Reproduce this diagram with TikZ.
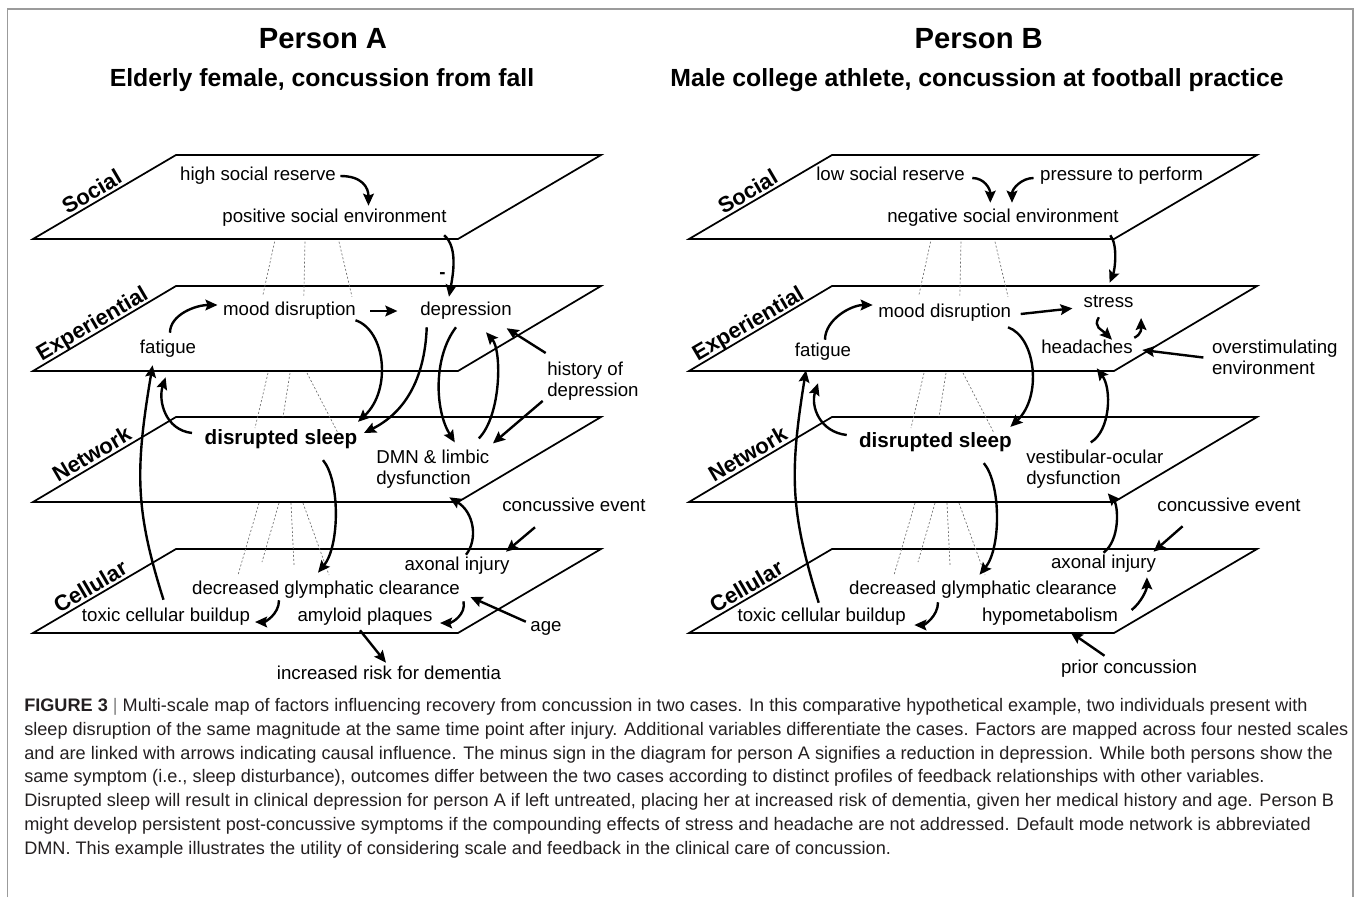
\documentclass[tikz,border=0pt]{standalone}
\usepackage{fontspec}
\setmainfont{Liberation Sans}
\usepackage{tikz}
\usetikzlibrary{arrows.meta,calc}

\begin{document}
\begin{tikzpicture}[x=0.75pt,y=0.75pt,yscale=-1,xscale=1,
  plane/.style={draw=black,line width=1.3pt,line join=miter},
  lvl/.style={font=\fontsize{16.5}{18}\selectfont\bfseries,inner sep=2pt,text height=12pt,text depth=0pt,anchor=south,rotate=30.4,pos=0.45},
  txt/.style={font=\fontsize{14}{16}\selectfont,inner sep=1pt,text height=10pt,text depth=3pt},
  txtml/.style={font=\fontsize{14}{16}\selectfont,inner sep=1pt,align=left,anchor=north west},
  sleepnode/.style={font=\fontsize{15.5}{18}\selectfont\bfseries,inner sep=1pt,text height=11pt,text depth=3.3pt},
  head/.style={font=\fontsize{21.9}{24}\selectfont\bfseries,inner sep=0pt,anchor=base},
  subhead/.style={font=\fontsize{18.6}{21}\selectfont\bfseries,inner sep=0pt,anchor=base},
  arr/.style={line width=1.8pt,-{Stealth[length=9pt,width=8pt,inset=1.5pt]}},
  zoomln/.style={draw={rgb, 255:red, 110; green, 110; blue, 110 },line width=0.5pt,dash pattern=on 1.5pt off 1.5pt},
  frameln/.style={draw={rgb, 255:red, 155; green, 155; blue, 155 },line width=1.2pt}]
\useasboundingbox (0,0) rectangle (1357,897);

%Shape: Frame
\draw [frameln] (7.5,897) -- (7.5,9) -- (1353,9) -- (1353,897) ;

% Text Node
\draw (323,48.5) node [head] (hdA) {Person A};
% Text Node
\draw (322,86) node [subhead] (subA) {Elderly female, concussion from fall};
% Text Node
\draw (978.7,48.5) node [head] (hdB) {Person B};
% Text Node
\draw (977,86) node [subhead] (subB) {Male college athlete, concussion at football practice};

%Shape: Parallelogram (person A)
\draw [plane] (33,239) -- node [lvl] (socA) {Social} (176,155) -- (601,155) -- (458,239) -- cycle ;
\draw [plane] (33,371) -- node [lvl] (expA) {Experiential} (176,286) -- (601,286) -- (458,371) -- cycle ;
\draw [plane] (33,502) -- node [lvl] (netA) {Network} (176,417) -- (601,417) -- (458,502) -- cycle ;
\draw [plane] (33,633) -- node [lvl,pos=0.44] (celA) {Cellular} (176,549) -- (601,549) -- (458,633) -- cycle ;
%Shape: Parallelogram (person B)
\draw [plane] (689,239) -- node [lvl] (socB) {Social} (832,155) -- (1257,155) -- (1114,239) -- cycle ;
\draw [plane] (689,371) -- node [lvl] (expB) {Experiential} (832,286) -- (1257,286) -- (1114,371) -- cycle ;
\draw [plane] (689,502) -- node [lvl] (netB) {Network} (832,417) -- (1257,417) -- (1114,502) -- cycle ;
\draw [plane] (689,633) -- node [lvl,pos=0.44] (celB) {Cellular} (832,549) -- (1257,549) -- (1114,633) -- cycle ;

%Straight Lines (scale links A)
\draw [zoomln] (274.6,241.7) -- (262.9,295) ;
\draw [zoomln] (305,241.7) -- (303.8,296.7) ;
\draw [zoomln] (339,241.7) -- (352,296.7) ;
\draw [zoomln] (268,373) -- (255,428) ;
\draw [zoomln] (290,373) -- (283,417) ;
\draw [zoomln] (307,373) -- (338,433) ;
\draw [zoomln] (259,503) -- (238,575) ;
\draw [zoomln] (279,503) -- (262,562) ;
\draw [zoomln] (291,503) -- (294,565) ;
\draw [zoomln] (303,503) -- (329,575) ;
%Straight Lines (scale links B)
\draw [zoomln] (930.6,241.7) -- (918.9,295) ;
\draw [zoomln] (961,241.7) -- (959.8,296.7) ;
\draw [zoomln] (995,241.7) -- (1008,296.7) ;
\draw [zoomln] (924,373) -- (911,428) ;
\draw [zoomln] (946,373) -- (939,417) ;
\draw [zoomln] (963,373) -- (994,433) ;
\draw [zoomln] (915,503) -- (894,575) ;
\draw [zoomln] (935,503) -- (918,562) ;
\draw [zoomln] (947,503) -- (950,565) ;
\draw [zoomln] (959,503) -- (985,575) ;

% Text Node
\draw (258,176) node [txt] (hsrA) {high social reserve};
\draw (334.5,218) node [txt] (pseA) {positive social environment};
\draw (442.5,274) node [txt,font=\fontsize{14}{16}\selectfont\bfseries] (minA) {-};
\draw (289.5,311) node [txt] (moodA) {mood disruption};
\draw (466,311) node [txt] (depA) {depression};
\draw (168,349) node [txt] (fatA) {fatigue};
\draw (545.7,360) node [txtml] (histA) {history of\\depression};
\draw (281,439) node [sleepnode] (sleepA) {disrupted sleep};
\draw (374.7,448.4) node [txtml] (dmnA) {DMN \& limbic\\dysfunction};
\draw (574,507) node [txt] (concA) {concussive event};
\draw (457,566) node [txt] (axonA) {axonal injury};
\draw (326,590) node [txt] (glymA) {decreased glymphatic clearance};
\draw (166,617) node [txt] (toxA) {toxic cellular buildup};
\draw (365,617) node [txt] (amyA) {amyloid plaques};
\draw (546,627) node [txt] (ageA) {age};
\draw (389,675) node [txt] (riskA) {increased risk for dementia};

% Text Node
\draw (890.5,176) node [txt] (lsrB) {low social reserve};
\draw (1121.6,176) node [txt] (ptpB) {pressure to perform};
\draw (1003,218) node [txt] (nseB) {negative social environment};
\draw (944.7,313) node [txt] (moodB) {mood disruption};
\draw (1108.6,302.7) node [txt] (stressB) {stress};
\draw (1087,349) node [txt] (headB) {headaches};
\draw (823,352) node [txt] (fatB) {fatigue};
\draw (1210.4,338.4) node [txtml] (overB) {overstimulating\\environment};
\draw (935.4,442) node [sleepnode] (sleepB) {disrupted sleep};
\draw (1024.7,448.4) node [txtml] (vestB) {vestibular-ocular\\dysfunction};
\draw (1229,507) node [txt] (concB) {concussive event};
\draw (1103.5,564) node [txt] (axonB) {axonal injury};
\draw (983,590) node [txt] (glymB) {decreased glymphatic clearance};
\draw (821.7,617) node [txt] (toxB) {toxic cellular buildup};
\draw (1050,617) node [txt] (hypoB) {hypometabolism};
\draw (1129,669) node [txt] (priorB) {prior concussion};

%Curve Lines (person A)
\draw [arr] ($(hsrA.east)+(3,0)$) .. controls +(22,0) and +(0,-18) .. ($(pseA.north)+(34,-2)$) ;
\draw [arr] ($(pseA.south east)+(-4,7)$) .. controls +(14,12) and +(4,-22) .. ($(depA.north)+(-17,-4)$) ;
\draw [arr,shorten <=9.5pt,shorten >=16pt] (moodA.east) -- (depA.west) ;
\draw [arr] ($(fatA.north)+(2,-6)$) .. controls +(0,-18) and +(-22,0) .. ($(moodA.west)+(-4,-6)$) ;
\draw [arr] ($(moodA.south east)+(-2,-1)$) .. controls +(30,10) and +(34,-32) .. ($(sleepA.north east)+(-1,-6)$) ;
\draw [arr] ($(depA.south west)+(8,6)$) .. controls +(-2,53) and +(40,-20) .. ($(sleepA.east)+(5,-6)$) ;
\draw [arr] ($(depA.south)+(-10,6)$) .. controls +(-23,30) and +(-20,-32) .. ($(dmnA.north)+(22,-6)$) ;
\draw [arr] ($(dmnA.north)+(46,-10)$) .. controls +(22.5,-23) and +(16,18) .. ($(depA.south)+(20,11)$) ;
\draw [arr] ($(histA.north west)+(0,-7)$) -- ($(depA.south east)+(-6.6,7)$) ;
\draw [arr] ($(histA.south west)+(-3,-1)$) -- ($(dmnA.north east)+(2,-5)$) ;
\draw [arr] ($(sleepA.south)+(42,10)$) .. controls +(17,20) and +(22,-27) .. ($(glymA.north)+(-8,-7)$) ;
\draw [arr] ($(axonA.north)+(9,-1)$) .. controls +(12,-15) and +(25,15) .. ($(dmnA.south)+(16.5,7)$) ;
\draw [arr] ($(concA.south)+(-39,10)$) -- ($(axonA.north east)+(-5,-4)$) ;
\draw [arr] ($(glymA.south)+(-47,0)$) .. controls +(0,14) and +(10,0) .. ($(toxA.east)+(3.4,5)$) ;
\draw [arr] ($(glymA.south east)+(2,1)$) .. controls +(3,13) and +(12,0) .. ($(amyA.east)+(6,6)$) ;
\draw [arr] ($(ageA.north west)+(-3,5)$) -- ($(glymA.east)+(9,7)$) ;
\draw [arr] ($(amyA.south)+(-5,3)$) -- ($(riskA.north)+(-3,-2)$) ;
\draw [arr] ($(toxA.north)+(-2.5,-7)$) .. controls +(-28.5,-90) and +(-17.6,105) .. ($(fatA.south)+(-15.4,6)$) ;
\draw [arr] ($(sleepA.west)+(-11,-6)$) .. controls +(-27,-3) and +(-7.6,23) .. ($(fatA.south)+(-2.4,18)$) ;

%Curve Lines (person B)
\draw [arr] ($(lsrB.east)+(6,2)$) .. controls +(12,0) and +(0,-14) .. ($(nseB.north)+(-12.7,-5)$) ;
\draw [arr] ($(ptpB.west)+(-5,2)$) .. controls +(-12,0) and +(0,-14) .. ($(nseB.north)+(9,-5)$) ;
\draw [arr] ($(nseB.south east)+(-10,7)$) .. controls +(8,10) and +(5,-12) .. ($(stressB.north)+(1,-9.7)$) ;
\draw [arr] ($(fatB.north)+(2,-2)$) .. controls +(0,-20) and +(-22,0) .. ($(moodB.west)+(-4,-8)$) ;
\draw [arr] ($(moodB.east)+(8,1)$) -- ($(stressB.west)+(-9.6,5.6)$) ;
\draw [arr] ($(stressB.south)+(-9.8,4.3)$) .. controls +(-6,10) and +(-10,-10) .. ($(headB.north)+(25,1)$) ;
\draw [arr] ($(headB.north east)+(0,-1)$) .. controls +(8,-4) and +(0,10) .. ($(stressB.south east)+(6,5)$) ;
\draw [arr] ($(overB.west)+(-7,0)$) -- ($(headB.east)+(8,1)$) ;
\draw [arr] ($(vestB.north)+(-4,-6)$) .. controls +(20,-12) and +(15,20) .. ($(headB.south)+(9.7,9)$) ;
\draw [arr] ($(moodB.south east)+(-4.7,4)$) .. controls +(28,10) and +(32,-30) .. ($(sleepB.north east)+(-3,-4)$) ;
\draw [arr] ($(sleepB.south)+(48.4,10)$) .. controls +(17,20) and +(22,-27) .. ($(glymB.north)+(-3.5,-5)$) ;
\draw [arr] ($(axonB.north)+(0,-1)$) .. controls +(17,-13) and +(10.5,12) .. ($(vestB.south)+(13,3)$) ;
\draw [arr] ($(concB.south)+(-46.4,9)$) -- ($(axonB.north east)+(-4,-2)$) ;
\draw [arr] ($(glymB.south)+(-45,2)$) .. controls +(0,14) and +(10,0) .. ($(toxB.east)+(7,8)$) ;
\draw [arr] ($(hypoB.east)+(12,-7)$) .. controls +(10,-8) and +(0,12) .. ($(axonB.south east)+(-10.6,3)$) ;
\draw [arr] ($(priorB.north)+(-24.5,-3)$) -- ($(hypoB.south)+(20.6,5)$) ;
\draw [arr] ($(toxB.north)+(-3,-4)$) .. controls +(-28,-90) and +(-17,105) .. ($(fatB.south)+(-17,8)$) ;
\draw [arr] ($(sleepB.west)+(-10.7,-7)$) .. controls +(-27,-3) and +(-7.6,23) .. ($(fatB.south)+(-5,21)$) ;

% Text Node (caption)
\draw (24,698) node [anchor=north west,inner sep=0pt,align=left,text={rgb, 255:red, 35; green, 31; blue, 32 },font=\fontsize{13.6}{17.85}\selectfont] (capt) {{\bfseries FIGURE 3} {\color{gray}|} Multi-scale map of factors influencing recovery from concussion in two cases. In this comparative hypothetical example, two individuals present with\\sleep disruption of the same magnitude at the same time point after injury. Additional variables differentiate the cases. Factors are mapped across four nested scales\\and are linked with arrows indicating causal influence. The minus sign in the diagram for person A signifies a reduction in depression. While both persons show the\\same symptom (i.e., sleep disturbance), outcomes differ between the two cases according to distinct profiles of feedback relationships with other variables.\\Disrupted sleep will result in clinical depression for person A if left untreated, placing her at increased risk of dementia, given her medical history and age. Person B\\might develop persistent post-concussive symptoms if the compounding effects of stress and headache are not addressed. Default mode network is abbreviated\\DMN. This example illustrates the utility of considering scale and feedback in the clinical care of concussion.};

\end{tikzpicture}
\end{document}
